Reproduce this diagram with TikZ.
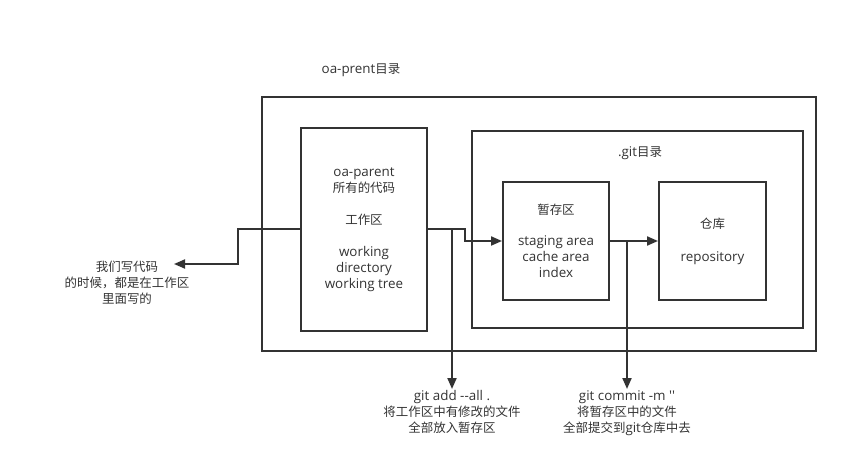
\documentclass[tikz,border=0pt]{standalone}
\usepackage{fontspec}
\setmainfont{Open Sans}[Ligatures=TeXOff]
\newfontfamily\cjk{Noto Sans CJK SC}[Ligatures=TeXOff,Scale=0.93]
\usetikzlibrary{arrows.meta}
\definecolor{ink}{HTML}{333333}
\tikzset{
	box/.style={draw=ink,line width=2pt,inner sep=0pt,align=center},
	txt/.style={text=ink,align=center,inner sep=1pt},
	arr/.style={draw=ink,line width=2pt,-{Triangle[length=11pt,width=9pt]}}
}
\begin{document}
\begin{tikzpicture}[x=1pt,y=-1pt,font=\fontsize{13.4}{16}\selectfont]
		\useasboundingbox (0,0) rectangle (848,462);
		
		\node[box,minimum width=554pt,minimum height=254pt] (outer) at (539,224) {};
		\node[txt] (outertitle) at (361,70) {oa-prent{\cjk 目录}};
		
		\node[box,minimum width=331pt,minimum height=197pt] (gitdir) at (637.5,229.5) {};
		\node[txt] (gittitle) at (640,153) {.git{\cjk 目录}};
		
		\node[box,minimum width=126pt,minimum height=203pt,text=ink] (work) at (364,229.5)
			{oa-parent\\{\cjk 所有的代码}\\[16pt]{\cjk 工作区}\\[16pt]working\\directory\\working tree};
		\node[box,minimum width=106pt,minimum height=118pt,text=ink] (stage) at (556,241)
			{{\cjk 暂存区}\\[15pt]staging area\\cache area\\index};
		\node[box,minimum width=107pt,minimum height=118pt,text=ink] (repo) at (712.5,241)
			{{\cjk 仓库}\\[17pt]repository};
		
		\node[txt,font=\fontsize{13.4}{16}\cjk] (write) at (127,283) {我们写代码\\的时候，都是在工作区\\里面写的};
		\node[txt,anchor=north] (add) at (452,389) {git add --all .\\{\cjk 将工作区中有修改的文件}\\{\cjk 全部放入暂存区}};
		\node[txt,anchor=north] (commit) at (627,389) {git commit -m ''\\{\cjk 将暂存区中的文件}\\{\cjk 全部提交到}git{\cjk 仓库中去}};
		
		% working area -> where we write
		\coordinate (lbend) at (238,264);
		\coordinate (writetip) at (174,264);
		\draw[arr] (work.west) -| (lbend) -- (writetip);
		
		% working area -> staging area
		\coordinate (rbend) at (465,241);
		\draw[arr] (work.east) -| (rbend) -- (stage.west);
		\coordinate (addsplit) at (452,229.5);
		\draw[arr] (addsplit) -- (add);
		
		% staging area -> repository
		\draw[arr] (stage.east) -- (repo.west);
		\coordinate (commitsplit) at (627,241);
		\draw[arr] (commitsplit) -- (commit);
	\end{tikzpicture}
\end{document}
